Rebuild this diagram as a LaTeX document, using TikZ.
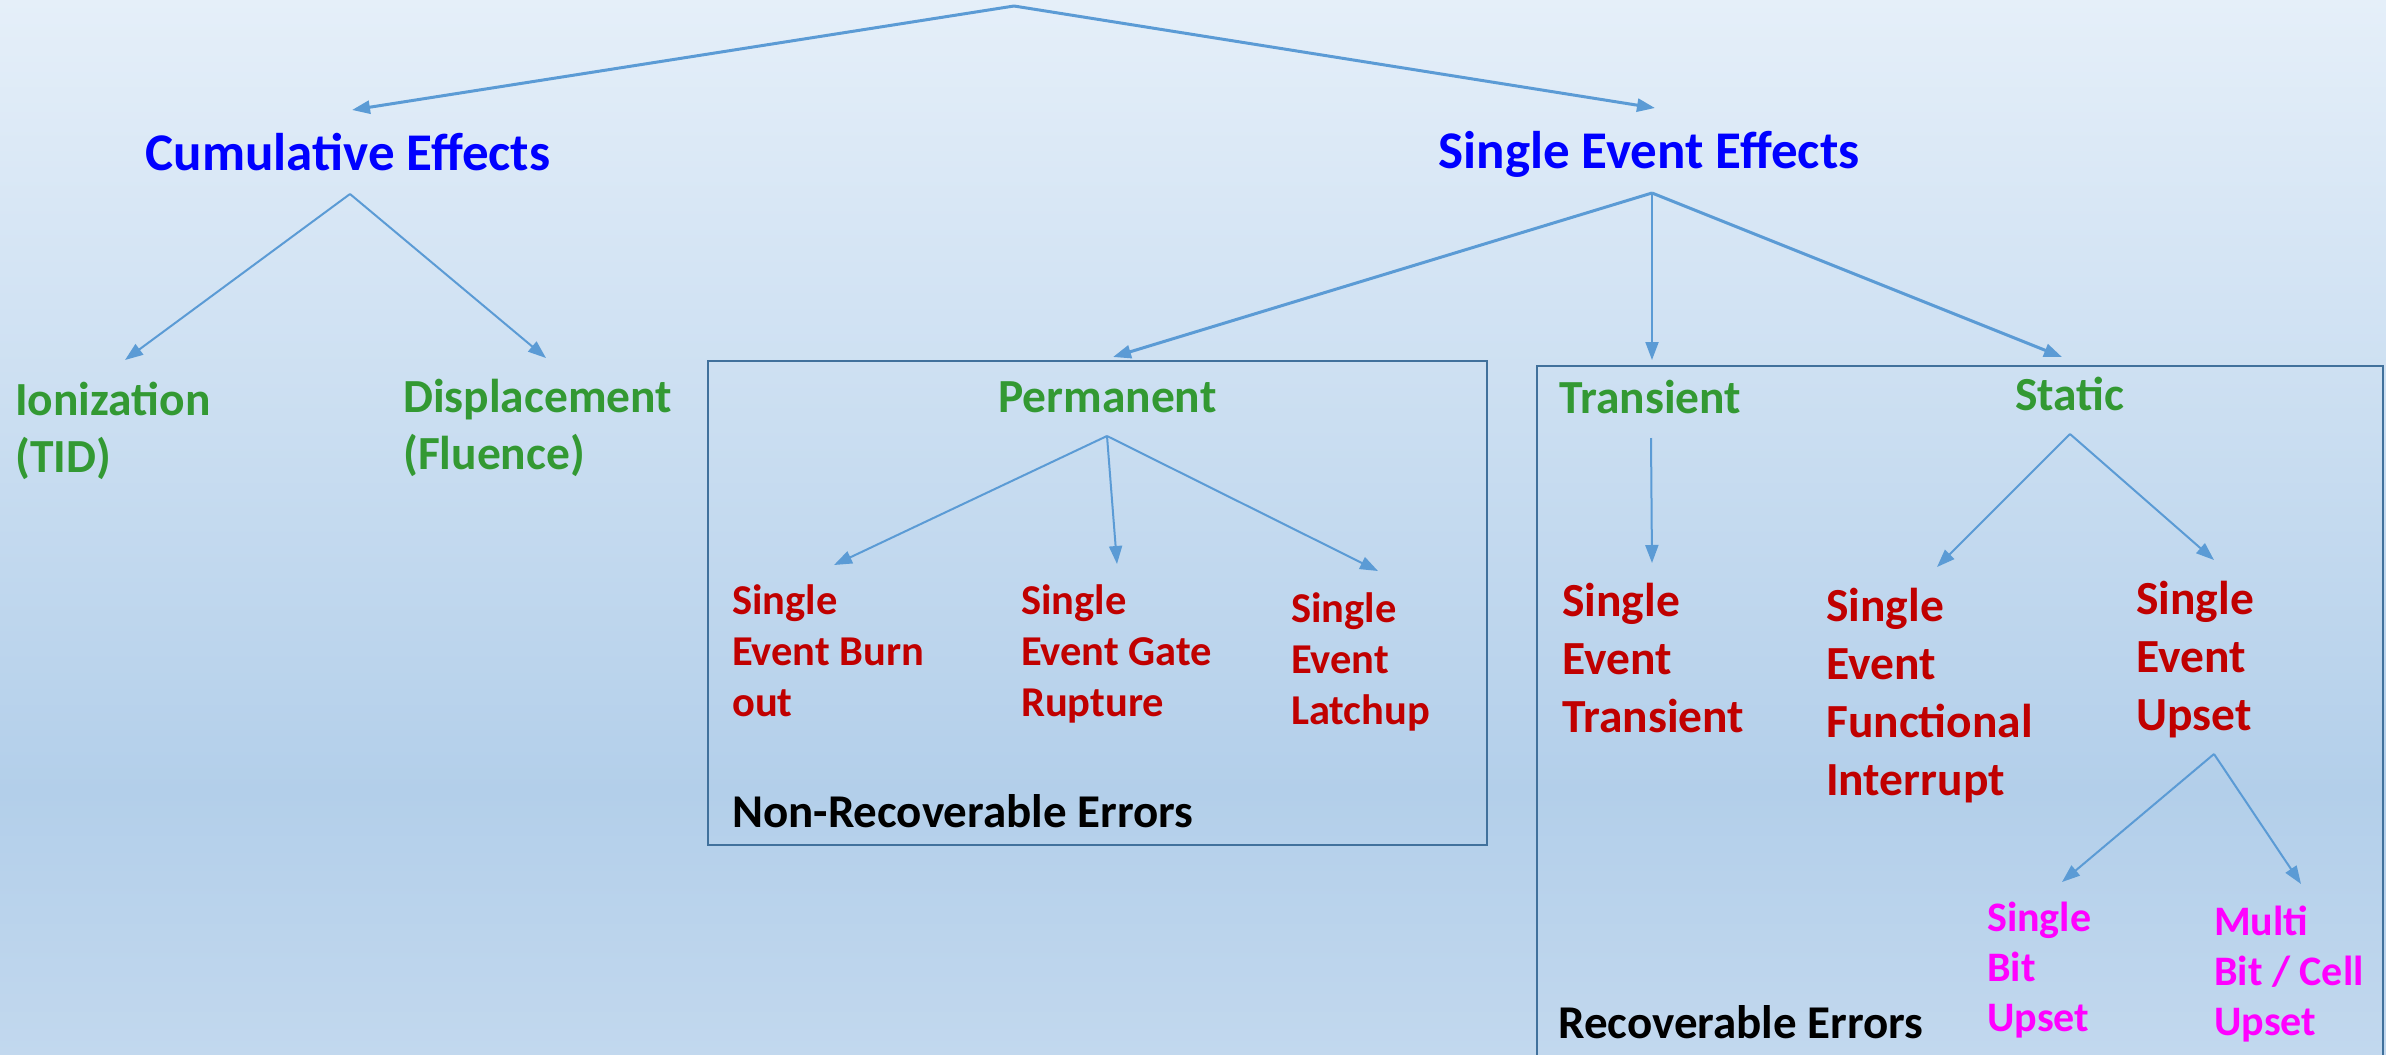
\documentclass[tikz,border=0pt]{standalone}
\usepackage{fontspec}
\setmainfont{Carlito}
\usepackage{xcolor}
\usetikzlibrary{arrows.meta}

\definecolor{headblue}{RGB}{0,0,255}
\definecolor{catgreen}{RGB}{51,153,51}
\definecolor{effred}{RGB}{192,0,0}
\definecolor{bitpink}{RGB}{255,0,255}
\definecolor{arrowblue}{RGB}{91,155,213}
\definecolor{boxblue}{RGB}{65,113,156}
\definecolor{bgtop}{RGB}{229,239,249}
\definecolor{bgmid}{RGB}{179,207,234}
\definecolor{bgbot}{RGB}{194,216,238}

% the path is fitted to the middle 25bp--75bp of the shading
\pgfdeclareverticalshading{bgfade}{100bp}{color(0bp)=(bgbot); color(25bp)=(bgbot); color(37.5bp)=(bgmid); color(75bp)=(bgtop); color(100bp)=(bgtop)}

% multi-line nodes sit on the baseline of their last line
\tikzset{
    head/.style={font=\bfseries\fontsize{53}{64}\selectfont, text=headblue, inner sep=0pt, anchor=base},
    cat/.style={font=\bfseries\fontsize{47.5}{57}\selectfont, text=catgreen, inner sep=0pt, anchor=base west, align=left},
    effsmall/.style={font=\bfseries\fontsize{42.5}{51}\selectfont, text=effred, inner sep=0pt, anchor=base west, align=left},
    efflarge/.style={font=\bfseries\fontsize{47.5}{58}\selectfont, text=effred, inner sep=0pt, anchor=base west, align=left},
    bitbox/.style={font=\bfseries\fontsize{42}{50}\selectfont, text=bitpink, inner sep=0pt, anchor=base west, align=left},
    errlabel/.style={font=\bfseries\fontsize{47}{56}\selectfont, text=black, inner sep=0pt, anchor=base west},
    arr/.style={draw=arrowblue, line width=2pt, -{Triangle[length=18pt,width=13pt]}},
    thickarr/.style={arr, line width=3pt},
    group/.style={draw=boxblue, line width=2.5pt}
}

\begin{document}
\begin{tikzpicture}[x=1pt, y=-1pt]
    % Background
    \useasboundingbox (0,0) rectangle (2386,1055);
    \shade[shading=bgfade] (0,0) rectangle (2386,1055);

    % Group boxes
    \draw[group] (708,361) rectangle (1487,845);
    \draw[group] (1537,366) rectangle (2383,1070);

    % Top level
    \node[head] (cum) at (348,170) {Cumulative Effects};
    \node[head] (see) at (1649,168) {Single Event Effects};

    % Second level
    \node[cat] (ion) at (15,472) {Ionization\\(TID)};
    \node[cat] (disp) at (403,469) {Displacement\\(Fluence)};
    \node[cat] (perm) at (998,412) {Permanent};
    \node[cat] (trans) at (1559,413) {Transient};
    \node[cat] (stat) at (2015,410) {Static};

    % Effects
    \node[effsmall] (seb) at (732,716) {Single\\Event Burn\\out};
    \node[effsmall] (segr) at (1021,716) {Single\\Event Gate\\Rupture};
    \node[effsmall] (sel) at (1291,724) {Single\\Event\\Latchup};
    \node[efflarge] (set) at (1562,732) {Single\\Event\\Transient};
    \node[efflarge] (sefi) at (1826,795) {Single\\Event\\Functional\\Interrupt};
    \node[efflarge] (seu) at (2136,730) {Single\\Event\\Upset};
    \node[bitbox] (sbu) at (1987,1031) {Single\\Bit\\Upset};
    \node[bitbox] (mbu) at (2214,1035) {Multi\\Bit / Cell\\Upset};

    % Box labels
    \node[errlabel] (nonrec) at (732,827) {Non-Recoverable Errors};
    \node[errlabel] (rec) at (1558,1038) {Recoverable Errors};

    % Arrow ends
    \coordinate (root) at (1014,6);
    \coordinate (cum-in) at (352,110);
    \coordinate (see-in) at (1655,108);
    \coordinate (cum-out) at (350,194);
    \coordinate (see-out) at (1652,193);
    \coordinate (ion-in) at (125,360);
    \coordinate (disp-in) at (546,358);
    \coordinate (perm-in) at (1113,357);
    \coordinate (trans-in) at (1652,360);
    \coordinate (stat-in) at (2062,357);
    \coordinate (perm-out) at (1107,436);
    \coordinate (trans-out) at (1651,438);
    \coordinate (stat-out) at (2070,434);
    \coordinate (seb-in) at (834,565);
    \coordinate (segr-in) at (1117,564);
    \coordinate (sel-in) at (1378,571);
    \coordinate (set-in) at (1652,563);
    \coordinate (sefi-in) at (1937,567);
    \coordinate (seu-in) at (2214,560);
    \coordinate (seu-out) at (2214,754);
    \coordinate (sbu-in) at (2062,882);
    \coordinate (mbu-in) at (2301,884);

    % Arrows
    \draw[thickarr] (root) -- (cum-in);
    \draw[thickarr] (root) -- (see-in);
    \foreach \t in {ion-in, disp-in} {
        \draw[arr] (cum-out) -- (\t);
    }
    \draw[thickarr] (see-out) -- (perm-in);
    \draw[arr] (see-out) -- (trans-in);
    \draw[thickarr] (see-out) -- (stat-in);
    \foreach \t in {seb-in, segr-in, sel-in} {
        \draw[arr] (perm-out) -- (\t);
    }
    \draw[arr] (trans-out) -- (set-in);
    \foreach \t in {sefi-in, seu-in} {
        \draw[arr] (stat-out) -- (\t);
    }
    \foreach \t in {sbu-in, mbu-in} {
        \draw[arr] (seu-out) -- (\t);
    }
\end{tikzpicture}
\end{document}
